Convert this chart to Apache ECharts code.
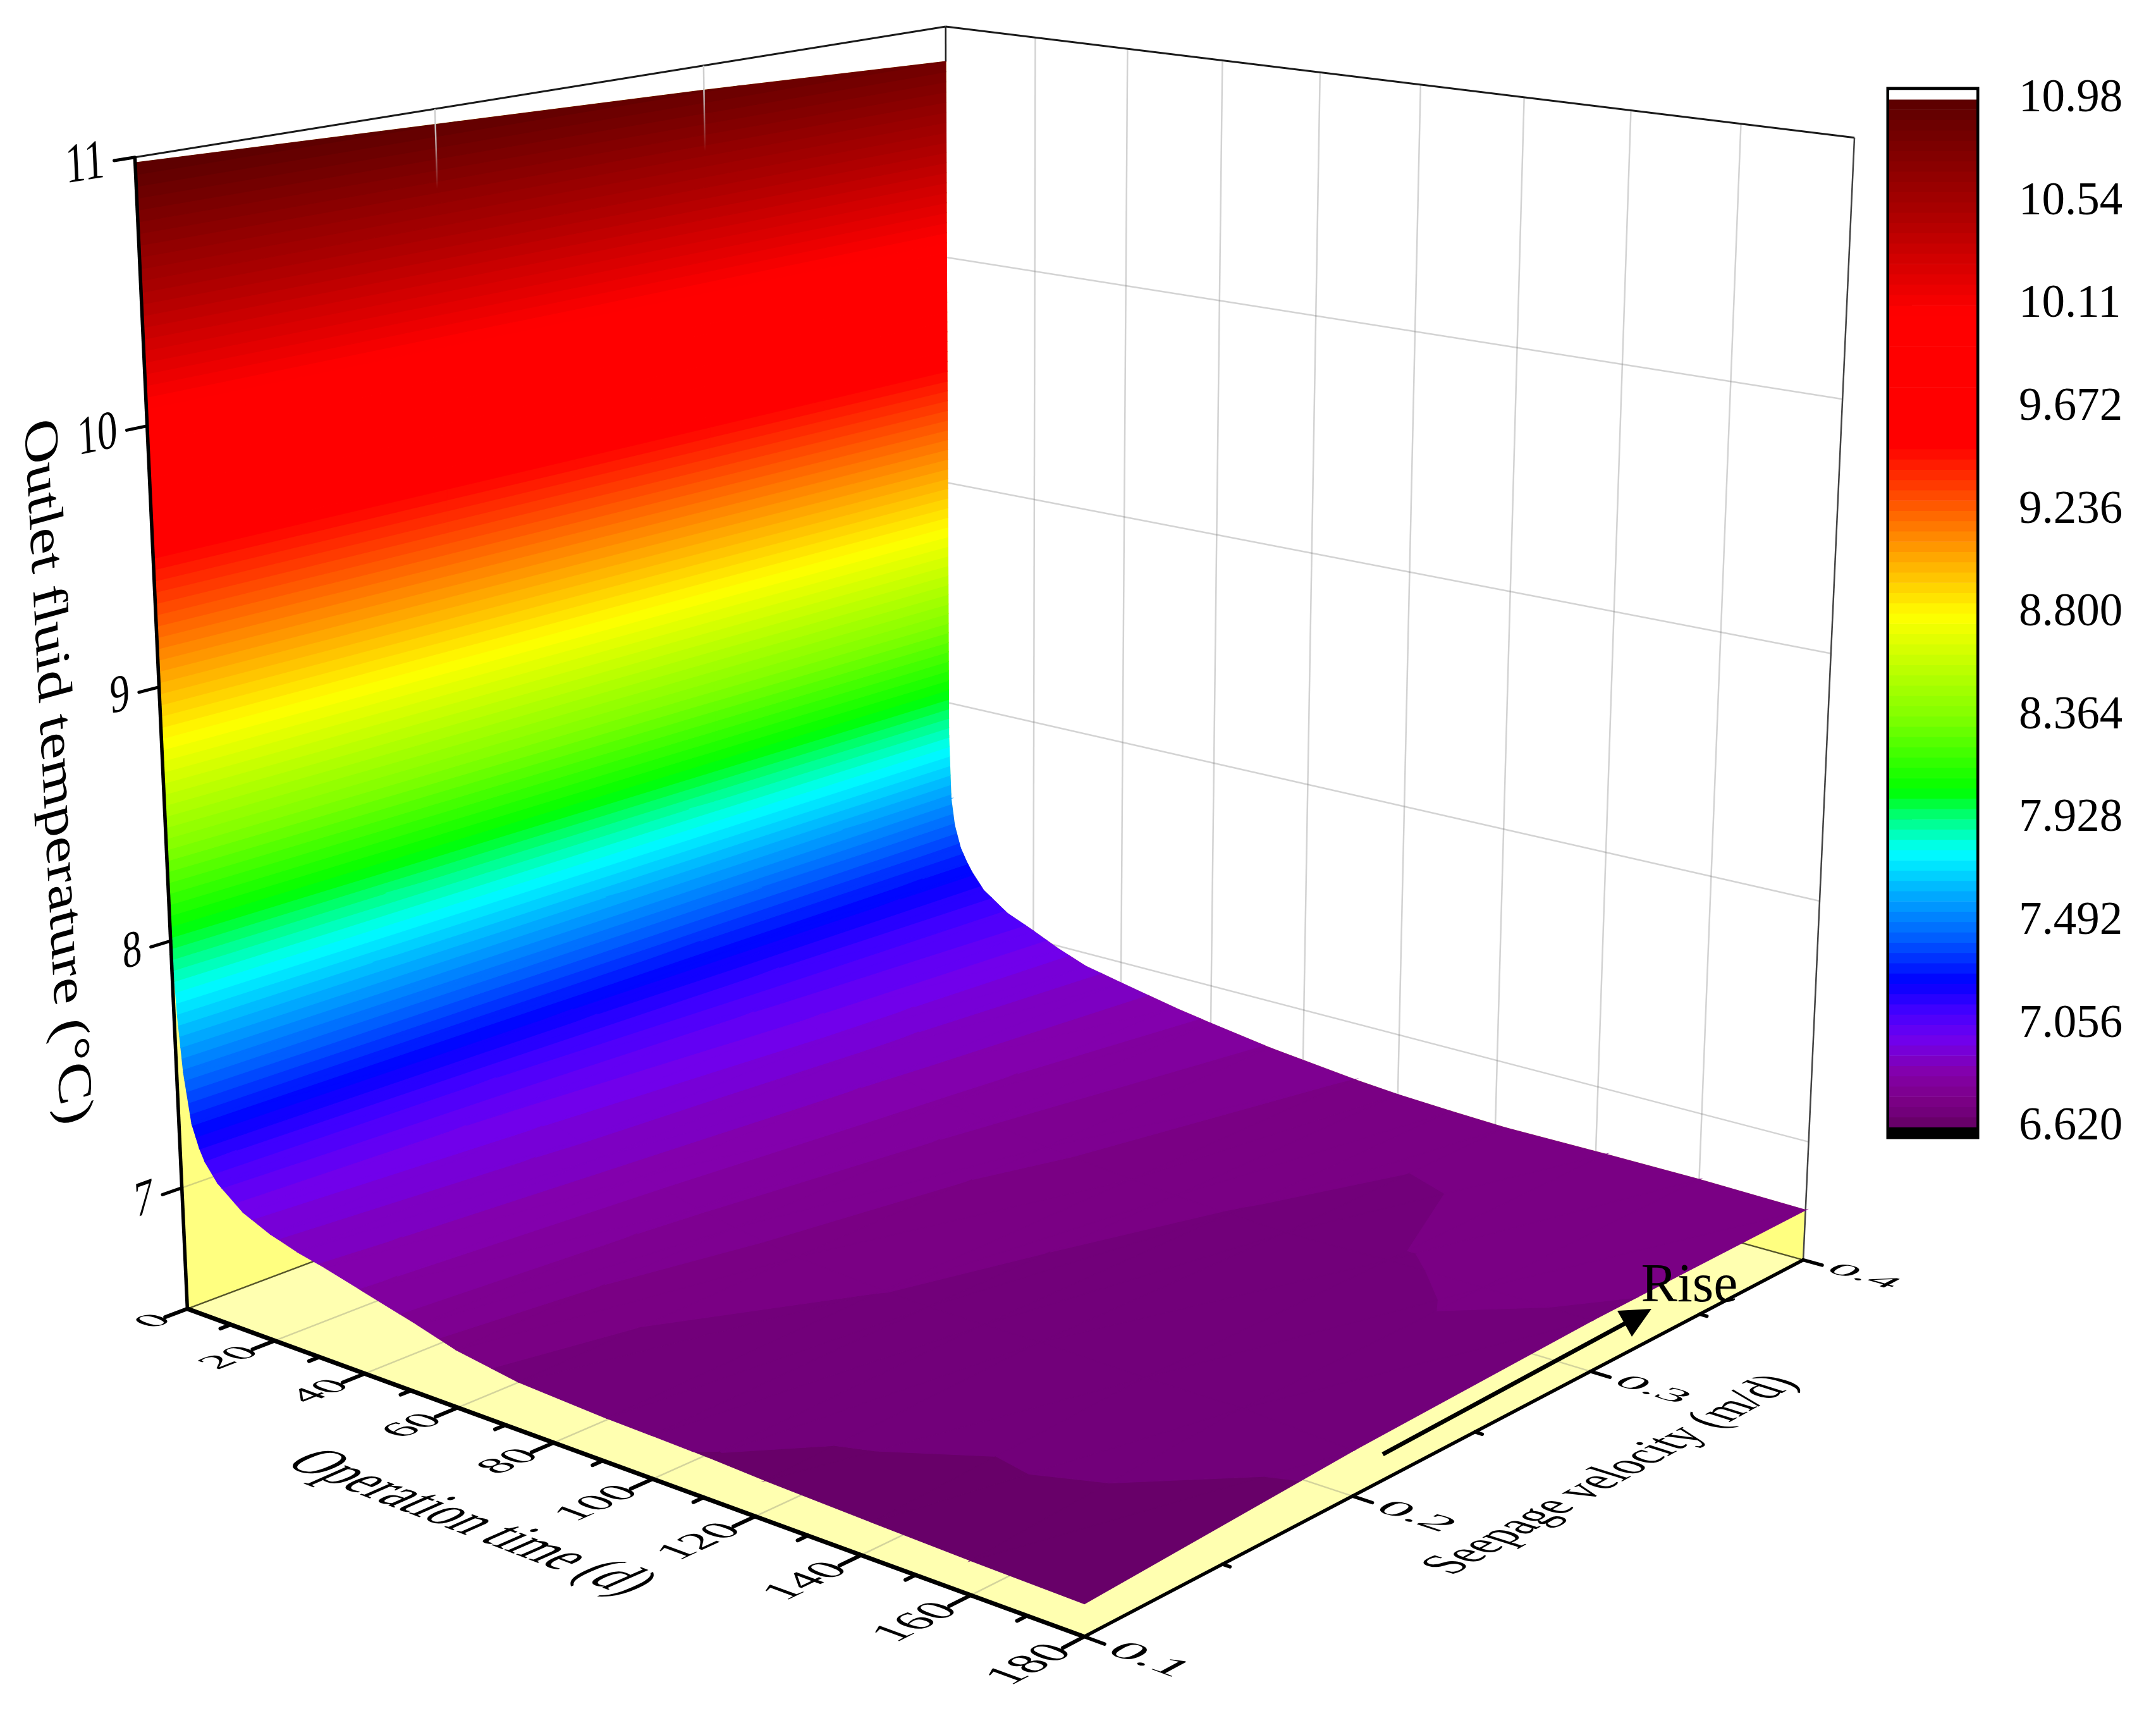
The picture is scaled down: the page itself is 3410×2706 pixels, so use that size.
<!DOCTYPE html>
<html>
<head>
    <meta charset="UTF-8">
    <title>Outlet fluid temperature surface</title>
    <script src="https://cdnjs.cloudflare.com/ajax/libs/echarts/6.0.0/echarts.min.js"></script>
    <style>
        html, body { margin: 0; padding: 0; background: #fff; }
        #chart { width: 3410px; height: 2706px; }
    </style>
</head>
<body>
    <div id="chart"></div>

    <script>
        // surface values
        const timeDays = [0, 0.3, 0.8, 1.6, 3, 4.5, 5.7, 8.4, 14, 20, 26, 32, 40, 52, 60, 73, 91, 100, 111, 122, 142, 160, 180];
        const velocities = [0.1, 0.2, 0.3, 0.4];
        const tempV01 = [10.98, 7.95, 7.70, 7.48, 7.28, 7.19, 7.14, 7.07, 6.985, 6.935, 6.90, 6.875, 6.835, 6.775, 6.73, 6.69, 6.672, 6.668, 6.662, 6.651, 6.638, 6.628, 6.62];
        const tempV02 = [10.94, 7.92, 7.65, 7.47, 7.30, 7.22, 7.17, 7.10, 7.02, 6.97, 6.93, 6.90, 6.86, 6.80, 6.77, 6.73, 6.708, 6.70, 6.70, 6.703, 6.696, 6.70, 6.675];
        const tempV03 = [10.90, 7.88, 7.60, 7.45, 7.32, 7.25, 7.21, 7.14, 7.06, 7.01, 6.96, 6.92, 6.885, 6.83, 6.80, 6.76, 6.73, 6.715, 6.706, 6.695, 6.706, 6.709, 6.706];
        const tempV04 = [10.85, 7.85, 7.56, 7.44, 7.34, 7.28, 7.24, 7.17, 7.09, 7.04, 6.985, 6.94, 6.906, 6.857, 6.83, 6.79, 6.75, 6.735, 6.725, 6.717, 6.72, 6.72, 6.712];
        const tempRows = [tempV01, tempV02, tempV03, tempV04];

        // axis ticks
        const timeMajor = [0, 20, 40, 60, 80, 100, 120, 140, 160, 180];
        const timeMinor = [10, 30, 50, 70, 90, 110, 130, 150, 170];
        const velocityMajor = [0.1, 0.2, 0.3, 0.4];
        const velocityMinor = [0.15, 0.25, 0.35];
        const velocityLabels = ['0.1', '0.2', '0.3', '0.4'];
        const tempMajor = [7, 8, 9, 10, 11];

        // colour scale
        const colorTicks = [6.62, 7.056, 7.492, 7.928, 8.364, 8.8, 9.236, 9.672, 10.108, 10.544, 10.98];
        const colorTickLabels = ['6.620', '7.056', '7.492', '7.928', '8.364', '8.800', '9.236', '9.672', '10.11', '10.54', '10.98'];
        const colorStopValues = [6.62, 6.64, 6.685, 6.73, 6.85, 7.0, 7.12, 7.24, 7.43, 7.62, 7.79, 7.93, 8.05, 8.36, 8.79, 9.51, 10.08, 10.47, 10.76, 10.98];
        const colorStopHex = ['#660066', '#680068', '#72007a', '#7a0084', '#8400a8', '#7000f0', '#4000ff', '#0000ff', '#0060ff', '#00b0ff', '#00ffff', '#00ff80', '#00ff00', '#80ff00', '#ffff00', '#ff0000', '#ff0000', '#b00000', '#800000', '#5a0000'];
        const levelCount = 100;

        const tMin = 0, tMax = 180, vMin = 0.1, vMax = 0.4, zMin = 6.5, zMax = 11;

        // known points of the box in the page: t, v, T, px, py. used to fit the perspective
        const cameraPoints = [
            [0, 0.1, 11, 217, 248], [0, 0.1, 10, 233, 675], [0, 0.1, 9, 251, 1090], [0, 0.1, 8, 270, 1491],
            [0, 0.1, 7, 285, 1877], [0, 0.1, 6.5, 294, 2067], [80, 0.1, 6.5, 874, 2279], [180, 0.1, 6.5, 1716, 2590],
            [180, 0.2, 6.5, 2141, 2366], [180, 0.3, 6.5, 2515, 2170], [180, 0.4, 6.5, 2851, 1991], [180, 0.4, 11, 2934, 218],
            [100, 0.4, 11, 2245, 134], [0, 0.4, 11, 1493, 41], [0, 0.4, 10, 1495, 406], [0, 0.4, 8, 1498, 1118],
            [0, 0.4, 6.5, 1505, 1615], [0, 0.2, 11, 690, 172], [0, 0.3, 11, 1113, 100]
        ];

        // rows of the least squares fit, solved by plain elimination
        function fitCamera(points) {
            const A = [], b = [];
            points.forEach(p => {
                const u = (p[0] - tMin) / (tMax - tMin), w = (p[1] - vMin) / (vMax - vMin), h = (p[2] - zMin) / (zMax - zMin);
                const x = p[3] / 1000, y = p[4] / 1000;
                A.push([u, w, h, 1, 0, 0, 0, 0, -x * u, -x * w, -x * h]); b.push(x);
                A.push([0, 0, 0, 0, u, w, h, 1, -y * u, -y * w, -y * h]); b.push(y);
            });
            const n = 11, M = [];
            for (let r = 0; r < n; r++) {
                M.push([]);
                for (let c = 0; c < n; c++) {
                    let s = 0;
                    for (let k = 0; k < A.length; k++) s += A[k][r] * A[k][c];
                    M[r].push(s);
                }
                let s = 0;
                for (let k = 0; k < A.length; k++) s += A[k][r] * b[k];
                M[r].push(s);
            }
            for (let c = 0; c < n; c++) {
                let best = c;
                for (let r = c + 1; r < n; r++) if (Math.abs(M[r][c]) > Math.abs(M[best][c])) best = r;
                const tmp = M[c]; M[c] = M[best]; M[best] = tmp;
                for (let r = 0; r < n; r++) {
                    if (r === c) continue;
                    const f = M[r][c] / M[c][c];
                    for (let k = c; k <= n; k++) M[r][k] -= f * M[c][k];
                }
            }
            return M.map((row, i) => row[n] / row[i]);
        }
        const cam = fitCamera(cameraPoints);

        function project(t, v, z) {
            const u = (t - tMin) / (tMax - tMin), w = (v - vMin) / (vMax - vMin), h = (z - zMin) / (zMax - zMin);
            const d = cam[8] * u + cam[9] * w + cam[10] * h + 1;
            return [
                1000 * (cam[0] * u + cam[1] * w + cam[2] * h + cam[3]) / d,
                1000 * (cam[4] * u + cam[5] * w + cam[6] * h + cam[7]) / d
            ];
        }

        function hexToRgb(hex) {
            return [parseInt(hex.slice(1, 3), 16), parseInt(hex.slice(3, 5), 16), parseInt(hex.slice(5, 7), 16)];
        }
        function colorAt(val) {
            const s = colorStopValues;
            if (val <= s[0]) return colorStopHex[0];
            for (let i = 1; i < s.length; i++) {
                if (val <= s[i]) {
                    const f = (val - s[i - 1]) / (s[i] - s[i - 1]);
                    const a = hexToRgb(colorStopHex[i - 1]), b = hexToRgb(colorStopHex[i]);
                    return 'rgb(' + a.map((c, k) => Math.round(c + (b[k] - c) * f)).join(',') + ')';
                }
            }
            return colorStopHex[s.length - 1];
        }

        const cMin = colorTicks[0], cMax = colorTicks[colorTicks.length - 1];
        const levelStep = (cMax - cMin) / levelCount;
        const levelData = [];
        for (let k = 0; k < levelCount; k++) {
            const lo = cMin + k * levelStep;
            levelData.push([lo, lo + levelStep, colorAt(lo + levelStep / 2)]);
        }

        // keep the part of a polygon with T on one side of a level
        function clipPoly(poly, level, keepAbove) {
            const out = [];
            for (let i = 0; i < poly.length; i++) {
                const a = poly[i], b = poly[(i + 1) % poly.length];
                const ina = keepAbove ? a[2] >= level : a[2] <= level;
                const inb = keepAbove ? b[2] >= level : b[2] <= level;
                if (ina) out.push(a);
                if (ina !== inb) {
                    const f = (level - a[2]) / (b[2] - a[2]);
                    out.push([a[0] + (b[0] - a[0]) * f, a[1] + (b[1] - a[1]) * f, level]);
                }
            }
            return out;
        }

        function polygonOf(api, poly, fill) {
            return {
                type: 'polygon',
                shape: { points: poly.map(p => api.coord(project(p[0], p[1], p[2]))) },
                style: { fill: fill, stroke: fill, lineWidth: 1.4 }
            };
        }

        function bandTriangle(api, tri, children) {
            const lo = Math.min(tri[0][2], tri[1][2], tri[2][2]);
            const hi = Math.max(tri[0][2], tri[1][2], tri[2][2]);
            levelData.forEach((lev, k) => {
                const a = k === 0 ? -Infinity : lev[0], b = k === levelCount - 1 ? Infinity : lev[1];
                if (hi < a || lo > b) return;
                let poly = tri;
                if (a !== -Infinity) poly = clipPoly(poly, a, true);
                if (b !== Infinity && poly.length) poly = clipPoly(poly, b, false);
                if (poly.length >= 3) children.push(polygonOf(api, poly, lev[2]));
            });
        }

        // one grid cell of the surface, split in two triangles and in colour bands
        function renderCell(params, api) {
            const i = api.value(0), j = api.value(1);
            const p = (a, b) => [timeDays[a], velocities[b], tempRows[b][a]];
            const children = [];
            bandTriangle(api, [p(i, j), p(i + 1, j), p(i + 1, j + 1)], children);
            bandTriangle(api, [p(i, j), p(i + 1, j + 1), p(i, j + 1)], children);
            return { type: 'group', silent: true, children: children };
        }

        function seg(api, a, b, stroke, width, cap) {
            const p = api.coord(project(a[0], a[1], a[2])), q = api.coord(project(b[0], b[1], b[2]));
            return {
                type: 'line',
                shape: { x1: p[0], y1: p[1], x2: q[0], y2: q[1] },
                style: { stroke: stroke, lineWidth: width, lineCap: cap || 'butt' }
            };
        }

        // text lying in a plane of the box: du and dw are the 3d steps of one text pixel
        function planeText(api, str, at, du, dw, size, align) {
            const p0 = project(at[0], at[1], at[2]);
            const pa = project(at[0] + du[0], at[1] + du[1], at[2] + du[2]);
            const pb = project(at[0] + dw[0], at[1] + dw[1], at[2] + dw[2]);
            const ax = pa[0] - p0[0], ay = pa[1] - p0[1], bx = pb[0] - p0[0], by = pb[1] - p0[1];
            const th = Math.atan2(ay, ax), c = Math.cos(th), s = Math.sin(th);
            const b1 = bx * c + by * s, b2 = -bx * s + by * c;
            const xy = api.coord(p0);
            return {
                type: 'text', x: xy[0], y: xy[1],
                rotation: -th, scaleX: Math.hypot(ax, ay), scaleY: b2, skewX: Math.atan(b1 / b2),
                style: {
                    text: str, fill: '#000', fontFamily: 'Liberation Serif', fontSize: size,
                    textAlign: align || 'center', textVerticalAlign: 'middle'
                }
            };
        }

        const gridColor = 'rgba(110,110,110,0.3)';
        const frameColor = '#1a1a1a';

        function renderBackdrop(params, api) {
            const ch = [];
            // grid on the back wall
            timeMajor.forEach(t => {
                if (t > tMin && t < tMax) ch.push(seg(api, [t, vMax, zMin], [t, vMax, zMax], gridColor, 2.5));
            });
            tempMajor.forEach(z => {
                if (z < zMax) ch.push(seg(api, [tMin, vMax, z], [tMax, vMax, z], gridColor, 2.5));
            });
            // the yellow sides under the surface
            const sideBack = timeDays.map((t, k) => [t, vMax, tempV04[k]]).concat([[tMax, vMax, zMin], [tMin, vMax, zMin]]);
            const sideLeft = velocities.map((v, k) => [tMin, v, tempRows[k][0]]).concat([[tMin, vMax, zMin], [tMin, vMin, zMin]]);
            ch.push(polygonOf(api, sideBack, '#ffff80'));
            ch.push(polygonOf(api, sideLeft, '#ffff80'));
            tempMajor.forEach(z => {
                if (z < zMax) ch.push(seg(api, [tMin, vMin, z], [tMin, vMax, z], gridColor, 2.5));
            });
            // floor
            ch.push(polygonOf(api, [[tMin, vMin, zMin], [tMax, vMin, zMin], [tMax, vMax, zMin], [tMin, vMax, zMin]], '#ffffb0'));
            timeMajor.forEach(t => {
                if (t > tMin && t < tMax) ch.push(seg(api, [t, vMin, zMin], [t, vMax, zMin], gridColor, 2.5));
            });
            velocityMajor.forEach(v => {
                if (v > vMin && v < vMax) ch.push(seg(api, [tMin, v, zMin], [tMax, v, zMin], gridColor, 2.5));
            });
            ch.push(seg(api, [tMin, vMin, zMin], [tMin, vMax, zMin], '#55552a', 2.5));
            ch.push(seg(api, [tMin, vMax, zMin], [tMax, vMax, zMin], '#55552a', 2.5));
            // frame of the walls
            ch.push(seg(api, [tMin, vMin, zMax], [tMin, vMax, zMax], frameColor, 3));
            ch.push(seg(api, [tMin, vMax, zMax], [tMax, vMax, zMax], frameColor, 3));
            ch.push(seg(api, [tMax, vMax, zMax], [tMax, vMax, zMin], '#444', 2.5));
            ch.push(seg(api, [tMin, vMax, zMax], [tMin, vMax, tempV04[0]], frameColor, 2.5));
            return { type: 'group', silent: true, children: ch };
        }

        // short pieces of the left wall grid that show through the top of the surface
        const stubVelocity = [0.2, 0.3];
        const stubEndTemp = [10.69, 10.65];
        // the arrow is an annotation placed on the page
        const riseLine = [[2187, 2300], [2585, 2085]];
        const riseHead = [[2612, 2070], [2558, 2073], [2581, 2114]];

        function renderOverlay(params, api) {
            const ch = [];
            stubVelocity.forEach((v, k) => {
                const p = api.coord(project(tMin, v, zMax)), q = api.coord(project(tMin, v, stubEndTemp[k]));
                const grad = new echarts.graphic.LinearGradient(p[0], p[1], q[0], q[1], [
                    { offset: 0, color: 'rgba(205,205,205,1)' },
                    { offset: 0.3, color: 'rgba(205,205,205,0.9)' },
                    { offset: 1, color: 'rgba(205,205,205,0)' }
                ], true);
                ch.push({ type: 'line', shape: { x1: p[0], y1: p[1], x2: q[0], y2: q[1] }, style: { stroke: grad, lineWidth: 2.5 } });
            });

            // axes
            ch.push(seg(api, [tMin, vMin, zMax], [tMin, vMin, zMin], '#000', 5.5));
            ch.push(seg(api, [tMin, vMin, zMin], [tMax, vMin, zMin], '#000', 7));
            ch.push(seg(api, [tMax, vMin, zMin], [tMax, vMax, zMin], '#000', 5.5));
            tempMajor.forEach(z => ch.push(seg(api, [tMin, vMin, z], [tMin, vMin - 0.0065, z], '#000', 5, 'round')));
            timeMajor.forEach(t => ch.push(seg(api, [t, vMin, zMin], [t, vMin - 0.0075, zMin], '#000', 6, 'round')));
            timeMinor.forEach(t => ch.push(seg(api, [t, vMin, zMin], [t, vMin - 0.0035, zMin], '#000', 6, 'round')));
            velocityMajor.forEach(v => ch.push(seg(api, [tMax, v, zMin], [tMax + 3.5, v, zMin], '#000', 5.5, 'round')));
            velocityMinor.forEach(v => ch.push(seg(api, [tMax, v, zMin], [tMax + 1.3, v, zMin], '#000', 5.5, 'round')));

            // tick labels lie in the planes of the box
            tempMajor.forEach(z => ch.push(planeText(api, String(z), [tMin, 0.0905, z], [0, 0.00021, 0], [0, 0, -0.0034], 60, 'right')));
            timeMajor.forEach(t => ch.push(planeText(api, String(t), [t, 0.0925, zMin], [0, 0.00025, 0], [0.13, 0, 0], 60, 'right')));
            velocityMajor.forEach((v, k) => ch.push(planeText(api, velocityLabels[k], [191, v, zMin], [0.16, 0, 0], [0, -0.0002, 0], 60)));

            // axis names
            ch.push(planeText(api, 'Operation time (d)', [91, 0.054, zMin], [0.115, 0, 0], [0, -0.00025, 0], 80));
            ch.push(planeText(api, 'Seepage velocity (m/d)', [204, 0.25, zMin], [0, 0.0002, 0], [0.115, 0, 0], 80));
            ch.push(planeText(api, 'Outlet fluid temperature (\u00b0C)', [tMin, 0.066, 8.78], [0, 0, -0.0029], [0, -0.00019, 0], 80));

            // the Rise note
            const a = api.coord(riseLine[0]), b = api.coord(riseLine[1]);
            ch.push({ type: 'line', shape: { x1: a[0], y1: a[1], x2: b[0], y2: b[1] }, style: { stroke: '#000', lineWidth: 7 } });
            ch.push({ type: 'polygon', shape: { points: riseHead.map(p => api.coord(p)) }, style: { fill: '#000' } });
            const r = api.coord([2672, 2035]);
            ch.push({
                type: 'text', x: r[0], y: r[1],
                style: { text: 'Rise', fill: '#000', fontFamily: 'Liberation Serif', fontSize: 86, textAlign: 'center', textVerticalAlign: 'middle' }
            });
            return { type: 'group', silent: true, children: ch };
        }

        // colour bar, one rect per level. white and black caps sit above and under the range
        function renderLevel(params, api) {
            const top = api.coord([0, api.value(1)]), low = api.coord([1, api.value(0)]);
            return {
                type: 'rect', silent: true,
                shape: { x: top[0] + 2, y: top[1], width: low[0] - top[0] - 4, height: low[1] - top[1] + 0.6 },
                style: { fill: api.value(2) }
            };
        }

        const cells = [];
        for (let i = 0; i < timeDays.length - 1; i++) {
            for (let j = velocities.length - 2; j >= 0; j--) cells.push([i, j]);
        }

        const barMin = 6.577, barMax = 11.0256;

        const chart = echarts.init(document.getElementById('chart'), null, { renderer: 'canvas' });
        chart.setOption({
            backgroundColor: '#fff',
            animation: false,
            grid: [
                { left: 0, top: 0, width: 3410, height: 2706, show: false },
                { left: 2986, top: 140, width: 142, height: 1659, show: true, borderColor: '#000', borderWidth: 5, backgroundColor: '#fff' }
            ],
            xAxis: [
                { type: 'value', min: 0, max: 3410, show: false, gridIndex: 0 },
                { type: 'value', min: 0, max: 1, show: false, gridIndex: 1 }
            ],
            yAxis: [
                { type: 'value', min: 0, max: 2706, inverse: true, show: false, gridIndex: 0 },
                {
                    type: 'value', min: barMin, max: barMax, gridIndex: 1, position: 'right',
                    axisLine: { show: false },
                    splitLine: { show: false },
                    axisTick: { show: true, length: 38, customValues: colorTicks, lineStyle: { color: '#000', width: 4 } },
                    axisLabel: {
                        show: true, margin: 65, customValues: colorTicks, color: '#000',
                        fontFamily: 'Liberation Serif', fontSize: 73, padding: [10, 0, 0, 0],
                        formatter: val => colorTickLabels[colorTicks.indexOf(val)]
                    }
                }
            ],
            series: [
                { type: 'custom', xAxisIndex: 0, yAxisIndex: 0, z: 1, clip: false, silent: true, renderItem: renderBackdrop, data: [[0, 0]] },
                { type: 'custom', xAxisIndex: 0, yAxisIndex: 0, z: 2, clip: false, silent: true, progressive: 0, renderItem: renderCell, data: cells },
                { type: 'custom', xAxisIndex: 0, yAxisIndex: 0, z: 3, clip: false, silent: true, renderItem: renderOverlay, data: [[0, 0]] },
                {
                    type: 'custom', xAxisIndex: 1, yAxisIndex: 1, z: 3, clip: false, silent: true, progressive: 0,
                    renderItem: renderLevel,
                    dimensions: ['lo', 'hi', { name: 'color', type: 'ordinal' }],
                    data: levelData.concat([[barMin, cMin, '#000000'], [cMax, barMax - 0.007, '#ffffff']])
                }
            ]
        });

        window.addEventListener('resize', () => chart.resize());
    </script>
</body>
</html>
